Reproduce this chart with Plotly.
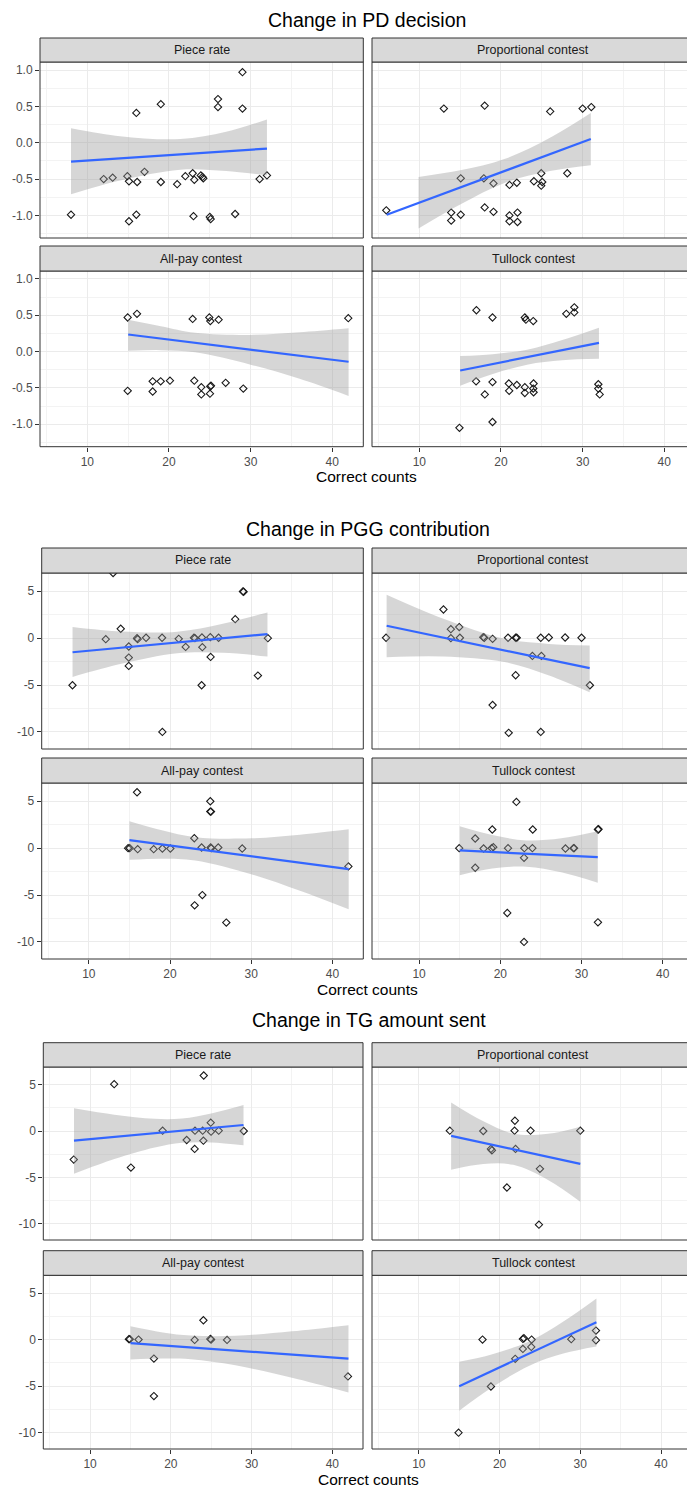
import plotly.graph_objects as go

# ---------------- data ----------------
facet_names = ["Piece rate", "Proportional contest", "All-pay contest", "Tullock contest"]
block_titles = ["Change in PD decision", "Change in PGG contribution", "Change in TG amount sent"]
x_label = "Correct counts"

x_ticks = [10, 20, 30, 40]
x_minor = [5, 15, 25, 35]
pd_y_ticks = [-1.0, -0.5, 0.0, 0.5, 1.0]
pd_y_labels = ["-1.0", "-0.5", "0.0", "0.5", "1.0"]
pd_y_minor = [-1.25, -0.75, -0.25, 0.25, 0.75]
gg_y_ticks = [-10, -5, 0, 5]
gg_y_labels = ["-10", "-5", "0", "5"]
gg_y_minor = [-7.5, -2.5, 2.5]

# ---- PD decision: points ----
pd_piece_x = [8.0, 12.0, 13.1, 14.9, 15.1, 15.1, 16.0, 16.0, 16.1, 17.0, 19.0, 19.0, 21.0, 22.0, 22.9,
              23.1, 23.0, 23.9, 24.1, 24.2, 25.0, 25.1, 26.0, 26.0, 28.1, 29.0, 29.0, 31.1, 32.0]
pd_piece_y = [-0.99, -0.50, -0.48, -0.46, -0.53, -1.08, 0.41, -0.99, -0.54, -0.40, 0.53, -0.54, -0.57,
              -0.46, -0.42, -0.51, -1.01, -0.45, -0.47, -0.49, -1.02, -1.05, 0.60, 0.49, -0.98, 0.97,
              0.47, -0.50, -0.45]
pd_prop_x = [5.95, 13.0, 13.9, 13.9, 15.07, 15.07, 18.0, 17.9, 18.0, 19.08, 19.08, 21.04, 21.04, 21.04,
             21.94, 22.02, 22.02, 24.03, 24.93, 25.05, 24.93, 26.03, 28.12, 30.0, 31.06]
pd_prop_y = [-0.93, 0.47, -0.96, -1.07, -0.49, -0.99, 0.51, -0.49, -0.89, -0.56, -0.95, -0.58, -1.00,
             -1.08, -0.55, -0.96, -1.09, -0.53, -0.42, -0.54, -0.59, 0.43, -0.42, 0.47, 0.49]
pd_allpay_x = [14.94, 14.94, 16.08, 18.0, 18.0, 18.98, 20.12, 22.9, 23.1, 23.96, 23.96, 24.94, 25.06,
               25.06, 25.14, 25.02, 26.08, 26.94, 29.1, 41.96]
pd_allpay_y = [0.47, -0.54, 0.52, -0.41, -0.55, -0.41, -0.40, 0.45, -0.40, -0.49, -0.59, 0.47, 0.42,
               -0.48, -0.47, -0.58, 0.44, -0.43, -0.51, 0.46]
pd_tullock_x = [14.91, 16.99, 16.95, 18.02, 18.96, 18.96, 18.96, 20.96, 21.0, 21.94, 22.92, 23.05, 22.92,
                22.92, 23.95, 23.99, 23.95, 23.99, 28.0, 28.98, 28.98, 31.92, 31.92, 32.09]
pd_tullock_y = [-1.05, 0.57, -0.41, -0.59, 0.47, -0.42, -0.97, -0.44, -0.54, -0.46, 0.47, 0.44, -0.49,
                -0.57, 0.42, -0.44, -0.51, -0.56, 0.52, 0.61, 0.54, -0.45, -0.51, -0.59]

# ---- PD decision: linear smooth (line ends and 95% band) ----
pd_piece_fit_x, pd_piece_fit_y = [8, 32], [-0.26, -0.08]
pd_piece_band_x = [8, 14, 21.4, 27, 32]
pd_piece_band_hi = [0.20, 0.09, 0.05, 0.15, 0.32]
pd_piece_band_lo = [-0.71, -0.52, -0.37, -0.39, -0.45]
pd_prop_fit_x, pd_prop_fit_y = [6, 31], [-0.99, 0.05]
pd_prop_band_x = [9.9, 15, 20.5, 26, 31]
pd_prop_band_hi = [-0.47, -0.38, -0.22, 0.07, 0.41]
pd_prop_band_lo = [-1.18, -0.85, -0.55, -0.39, -0.31]
pd_allpay_fit_x, pd_allpay_fit_y = [15, 42], [0.235, -0.14]
pd_allpay_band_x = [15, 19, 23.2, 30, 36, 42]
pd_allpay_band_hi = [0.44, 0.35, 0.26, 0.23, 0.265, 0.32]
pd_allpay_band_lo = [0.01, 0.02, -0.01, -0.18, -0.375, -0.61]
pd_tullock_fit_x, pd_tullock_fit_y = [15, 32], [-0.26, 0.12]
pd_tullock_band_x = [15, 19, 23.2, 27.5, 32]
pd_tullock_band_hi = [-0.06, -0.035, 0.027, 0.16, 0.33]
pd_tullock_band_lo = [-0.47, -0.31, -0.18, -0.12, -0.10]

# ---- PGG contribution: points ----
pgg_piece_x = [7.99, 12.09, 12.99, 13.93, 14.92, 14.92, 14.92, 15.94, 16.02, 17.05, 19.02, 19.06, 21.07,
               21.93, 22.95, 23.07, 23.93, 23.98, 23.89, 24.96, 25.0, 25.98, 28.03, 28.98, 29.06, 30.82,
               32.05]
pgg_piece_y = [-5.02, -0.11, 6.95, 1.0, -0.89, -2.07, -2.96, 0.0, -0.11, 0.04, 0.04, -10.0, -0.07, -0.93,
               0.04, 0.0, 0.07, -0.96, -5.02, 0.11, -2.0, 0.04, 2.03, 4.99, 4.95, -3.99, 0.0]
pgg_prop_x = [5.93, 13.0, 13.91, 13.91, 14.94, 15.02, 17.9, 18.02, 19.05, 19.05, 20.95, 21.03, 21.89,
              22.02, 21.89, 23.95, 24.98, 25.06, 24.98, 25.97, 27.98, 30.0, 31.03]
pgg_prop_y = [0.04, 3.06, 0.96, 0.0, 1.18, 0.04, 0.11, 0.04, -0.07, -7.13, 0.04, -10.1, 0.04, 0.04, -3.95,
              -1.89, 0.04, -1.89, -10.0, 0.07, 0.07, 0.04, -5.02]
pgg_allpay_x = [14.84, 15.04, 15.94, 16.02, 17.99, 19.06, 20.04, 22.99, 23.03, 23.89, 23.98, 24.96, 24.96,
                25.04, 25.0, 25.08, 25.94, 26.93, 28.89, 41.97]
pgg_allpay_y = [0.0, 0.0, 5.96, -0.11, -0.11, -0.04, -0.04, 1.06, -6.1, 0.07, -5.0, 5.0, 3.9, 3.9, 0.07,
                0.0, 0.07, -7.94, -0.04, -1.95]
pgg_tullock_x = [14.94, 16.91, 16.91, 17.94, 19.01, 18.93, 19.14, 20.95, 20.86, 21.98, 22.96, 22.92,
                 22.92, 23.99, 23.95, 28.02, 29.01, 29.09, 32.02, 32.1, 32.02]
pgg_tullock_y = [0.0, 1.03, -2.09, -0.04, 1.99, 0.0, 0.11, 0.0, -6.91, 4.93, 0.0, -1.03, -10.0, 1.99, 0.0,
                 -0.04, 0.0, 0.0, 1.99, 2.02, -7.91]

# ---- PGG contribution: linear smooth ----
pgg_piece_fit_x, pgg_piece_fit_y = [8, 32], [-1.5, 0.43]
pgg_piece_band_x = [8, 14, 20.9, 26.5, 32]
pgg_piece_band_hi = [1.18, 0.70, 0.69, 1.54, 2.74]
pgg_piece_band_lo = [-4.13, -2.74, -1.61, -1.56, -1.96]
pgg_prop_fit_x, pgg_prop_fit_y = [6, 31], [1.32, -3.2]
pgg_prop_band_x = [6, 13, 20.5, 26, 31]
pgg_prop_band_hi = [4.63, 2.06, -0.07, -0.61, -0.78]
pgg_prop_band_lo = [-2.03, -1.95, -2.54, -3.98, -5.77]
pgg_allpay_fit_x, pgg_allpay_fit_y = [15, 42], [0.85, -2.23]
pgg_allpay_band_x = [15, 19, 23.1, 30, 36, 42]
pgg_allpay_band_hi = [2.87, 1.90, 1.17, 1.05, 1.44, 2.02]
pgg_allpay_band_lo = [-1.24, -1.12, -1.31, -2.77, -4.54, -6.52]
pgg_tullock_fit_x, pgg_tullock_fit_y = [15, 32], [-0.24, -0.96]
pgg_tullock_band_x = [15, 19, 23.2, 27.5, 32]
pgg_tullock_band_hi = [2.34, 1.41, 0.83, 1.06, 1.80]
pgg_tullock_band_lo = [-2.90, -2.18, -1.97, -2.58, -3.69]

# ---- TG amount sent: points ----
tg_piece_x = [7.97, 12.98, 15.05, 18.98, 21.96, 22.99, 22.95, 23.94, 24.07, 24.03, 24.94, 24.98, 25.93, 29.03]
tg_piece_y = [-3.08, 5.05, -3.94, 0.04, -0.97, 0.04, -1.93, 0.04, 5.98, -1.04, 0.9, -0.07, 0.04, 0.0]
tg_prop_x = [13.84, 17.98, 18.93, 19.05, 21.9, 21.86, 21.98, 20.91, 23.84, 25.0, 24.88, 30.0]
tg_prop_y = [0.04, 0.0, -1.93, -2.08, 1.11, 0.04, -1.93, -6.09, 0.04, -4.08, -10.1, 0.04]
tg_allpay_x = [14.8, 14.92, 16.0, 17.9, 17.9, 22.95, 24.03, 24.89, 24.98, 26.96, 41.94]
tg_allpay_y = [0.04, 0.04, 0.0, -2.04, -6.07, -0.04, 2.07, 0.07, 0.0, -0.04, -3.96]
tg_tullock_x = [14.92, 17.89, 18.93, 21.94, 22.89, 22.89, 23.02, 23.97, 23.93, 28.88, 31.94, 31.94]
tg_tullock_y = [-10.0, 0.0, -5.04, -2.07, -1.0, 0.07, 0.14, 0.0, -0.79, 0.04, 0.96, -0.07]

# ---- TG amount sent: linear smooth ----
tg_piece_fit_x, tg_piece_fit_y = [8, 29], [-1.04, 0.65]
tg_piece_band_x = [8, 13, 18, 21.4, 25, 29]
tg_piece_band_hi = [2.44, 1.75, 1.31, 1.35, 1.89, 2.80]
tg_piece_band_lo = [-4.62, -3.03, -1.78, -1.27, -1.23, -1.54]
tg_prop_fit_x, tg_prop_fit_y = [14, 30], [-0.52, -3.55]
tg_prop_band_x = [14, 18, 21.7, 26, 30]
tg_prop_band_hi = [3.08, 1.04, -0.29, -0.30, 0.47]
tg_prop_band_lo = [-4.19, -3.56, -3.65, -5.28, -7.63]
tg_allpay_fit_x, tg_allpay_fit_y = [15, 42], [-0.39, -2.04]
tg_allpay_band_x = [15, 19, 22.5, 28, 35, 42]
tg_allpay_band_hi = [1.43, 0.77, 0.43, 0.40, 0.88, 1.54]
tg_allpay_band_lo = [-2.14, -2.04, -2.12, -2.77, -4.10, -5.68]
tg_tullock_fit_x, tg_tullock_fit_y = [15, 32], [-5.0, 1.86]
tg_tullock_band_x = [15, 19, 23.7, 28, 32]
tg_tullock_band_hi = [-2.39, -1.60, -0.18, 1.98, 4.40]
tg_tullock_band_lo = [-7.64, -5.18, -2.80, -1.48, -0.74]

# ---------------- layout geometry (pixels) ----------------
W, H = 687, 1490
X_RANGE = (4.2, 43.8)
RIGHT_COL = (372, 687)
RIGHT_FULL = 694

pd_panels = [
    (pd_piece_x, pd_piece_y, pd_piece_fit_x, pd_piece_fit_y, pd_piece_band_x, pd_piece_band_hi, pd_piece_band_lo),
    (pd_prop_x, pd_prop_y, pd_prop_fit_x, pd_prop_fit_y, pd_prop_band_x, pd_prop_band_hi, pd_prop_band_lo),
    (pd_allpay_x, pd_allpay_y, pd_allpay_fit_x, pd_allpay_fit_y, pd_allpay_band_x, pd_allpay_band_hi,
     pd_allpay_band_lo),
    (pd_tullock_x, pd_tullock_y, pd_tullock_fit_x, pd_tullock_fit_y, pd_tullock_band_x, pd_tullock_band_hi,
     pd_tullock_band_lo),
]
pgg_panels = [
    (pgg_piece_x, pgg_piece_y, pgg_piece_fit_x, pgg_piece_fit_y, pgg_piece_band_x, pgg_piece_band_hi,
     pgg_piece_band_lo),
    (pgg_prop_x, pgg_prop_y, pgg_prop_fit_x, pgg_prop_fit_y, pgg_prop_band_x, pgg_prop_band_hi,
     pgg_prop_band_lo),
    (pgg_allpay_x, pgg_allpay_y, pgg_allpay_fit_x, pgg_allpay_fit_y, pgg_allpay_band_x, pgg_allpay_band_hi,
     pgg_allpay_band_lo),
    (pgg_tullock_x, pgg_tullock_y, pgg_tullock_fit_x, pgg_tullock_fit_y, pgg_tullock_band_x,
     pgg_tullock_band_hi, pgg_tullock_band_lo),
]
tg_panels = [
    (tg_piece_x, tg_piece_y, tg_piece_fit_x, tg_piece_fit_y, tg_piece_band_x, tg_piece_band_hi, tg_piece_band_lo),
    (tg_prop_x, tg_prop_y, tg_prop_fit_x, tg_prop_fit_y, tg_prop_band_x, tg_prop_band_hi, tg_prop_band_lo),
    (tg_allpay_x, tg_allpay_y, tg_allpay_fit_x, tg_allpay_fit_y, tg_allpay_band_x, tg_allpay_band_hi,
     tg_allpay_band_lo),
    (tg_tullock_x, tg_tullock_y, tg_tullock_fit_x, tg_tullock_fit_y, tg_tullock_band_x, tg_tullock_band_hi,
     tg_tullock_band_lo),
]

blocks = [
    dict(title_y=20, xlab_y=476, strips=[(38, 62), (246, 271)], panels=[(62, 238), (271, 446.7)],
         left=(40, 363.3), yr=(-1.31, 1.11), yt=pd_y_ticks, yl=pd_y_labels, ym=pd_y_minor, data=pd_panels),
    dict(title_y=529, xlab_y=989, strips=[(548, 573), (758, 783)], panels=[(573, 749), (783, 959)],
         left=(41.7, 363.3), yr=(-11.82, 6.95), yt=gg_y_ticks, yl=gg_y_labels, ym=gg_y_minor, data=pgg_panels),
    dict(title_y=1020, xlab_y=1479, strips=[(1042.7, 1067), (1250.7, 1275.3)],
         panels=[(1067, 1240), (1275.3, 1449)],
         left=(43.3, 363), yr=(-11.75, 6.9), yt=gg_y_ticks, yl=gg_y_labels, ym=gg_y_minor, data=tg_panels),
]

FONT = "Liberation Sans, Arial, Helvetica, sans-serif"


def fx(px):
    return px / W


def fy(py):
    return 1 - py / H


fig = go.Figure()
layout = {}
shapes = []
annotations = []
k = 0
for bi, b in enumerate(blocks):
    lx0, lx1 = b["left"]
    scale = (lx1 - lx0) / (X_RANGE[1] - X_RANGE[0])
    right_end = X_RANGE[0] + (RIGHT_COL[1] - RIGHT_COL[0]) / scale
    annotations.append(dict(text=block_titles[bi], x=fx((lx0 + RIGHT_FULL) / 2),
                            y=fy(b["title_y"]), xref="paper", yref="paper", showarrow=False,
                            xanchor="center", yanchor="middle",
                            font=dict(family=FONT, size=19.5, color="black")))
    annotations.append(dict(text=x_label, x=fx((lx0 + RIGHT_FULL) / 2), y=fy(b["xlab_y"]),
                            xref="paper", yref="paper", showarrow=False, xanchor="center",
                            yanchor="middle", font=dict(family=FONT, size=15.5, color="black")))
    for i in range(4):
        k += 1
        row, col = divmod(i, 2)
        if col == 0:
            px0, px1 = lx0, lx1
            xr = list(X_RANGE)
            full1 = lx1
        else:
            px0, px1 = RIGHT_COL
            xr = [X_RANGE[0], right_end]
            full1 = RIGHT_FULL
        py0, py1 = b["panels"][row]
        sy0, sy1 = b["strips"][row]
        xa = "xaxis" if k == 1 else "xaxis%d" % k
        ya = "yaxis" if k == 1 else "yaxis%d" % k
        xref = "x" if k == 1 else "x%d" % k
        yref = "y" if k == 1 else "y%d" % k
        bottom = row == 1
        left = col == 0
        layout[xa] = dict(domain=[fx(px0), fx(px1)], anchor=yref, range=xr, tickmode="array",
                          tickvals=x_ticks, ticktext=[str(v) for v in x_ticks],
                          showticklabels=bottom, ticks="outside" if bottom else "",
                          ticklen=4, tickcolor="#333333", tickwidth=1,
                          tickfont=dict(family=FONT, size=12, color="#4D4D4D"),
                          showgrid=True, gridcolor="#EBEBEB", gridwidth=1, zeroline=False,
                          showline=False,
                          minor=dict(tickmode="array", tickvals=x_minor, showgrid=True,
                                     gridcolor="#F3F3F3", gridwidth=0.8, ticks=""))
        layout[ya] = dict(domain=[fy(py1), fy(py0)], anchor=xref, range=list(b["yr"]), tickmode="array",
                          tickvals=b["yt"], ticktext=b["yl"], showticklabels=left,
                          ticks="outside" if left else "", ticklen=4, tickcolor="#333333", tickwidth=1,
                          tickfont=dict(family=FONT, size=12, color="#4D4D4D"),
                          showgrid=True, gridcolor="#EBEBEB", gridwidth=1, zeroline=False,
                          showline=False,
                          minor=dict(tickmode="array", tickvals=b["ym"], showgrid=True,
                                     gridcolor="#F3F3F3", gridwidth=0.8, ticks=""))
        xv, yv, fit_x, fit_y, band_x, band_hi, band_lo = b["data"][i]
        fig.add_trace(go.Scatter(x=xv, y=yv, mode="markers", xaxis=xref, yaxis=yref,
                                 marker=dict(symbol="diamond-open", size=5.6, color="#1A1A1A",
                                             line=dict(width=1.1, color="#1A1A1A")),
                                 hoverinfo="skip"))
        # confidence band: lower edge, then upper edge filled down to it
        fig.add_trace(go.Scatter(x=band_x, y=band_lo, mode="lines", xaxis=xref, yaxis=yref,
                                 line=dict(width=0, shape="spline", smoothing=1.0),
                                 hoverinfo="skip"))
        fig.add_trace(go.Scatter(x=band_x, y=band_hi, mode="lines", xaxis=xref, yaxis=yref,
                                 line=dict(width=0, shape="spline", smoothing=1.0),
                                 fill="tonexty", fillcolor="rgba(153,153,153,0.4)",
                                 hoverinfo="skip"))
        fig.add_trace(go.Scatter(x=fit_x, y=fit_y, mode="lines", line=dict(color="#3366FF", width=2.2),
                                 xaxis=xref, yaxis=yref, hoverinfo="skip"))
        # panel border
        shapes.append(dict(type="rect", xref="paper", yref="paper", x0=fx(px0), x1=fx(full1),
                           y0=fy(py1), y1=fy(py0), line=dict(color="#333333", width=1),
                           fillcolor="rgba(0,0,0,0)", layer="above"))
        # strip
        shapes.append(dict(type="rect", xref="paper", yref="paper", x0=fx(px0), x1=fx(full1),
                           y0=fy(sy1), y1=fy(sy0), line=dict(color="#333333", width=1),
                           fillcolor="#D9D9D9", layer="above"))
        annotations.append(dict(text=facet_names[i], x=fx((px0 + full1) / 2), y=fy((sy0 + sy1) / 2),
                                xref="paper", yref="paper", showarrow=False, xanchor="center",
                                yanchor="middle", font=dict(family=FONT, size=12.5, color="#1A1A1A")))

fig.update_layout(width=W, height=H, margin=dict(l=0, r=0, t=0, b=0), showlegend=False,
                  plot_bgcolor="white", paper_bgcolor="white", shapes=shapes,
                  annotations=annotations, **layout)
fig.write_html("out.html")
